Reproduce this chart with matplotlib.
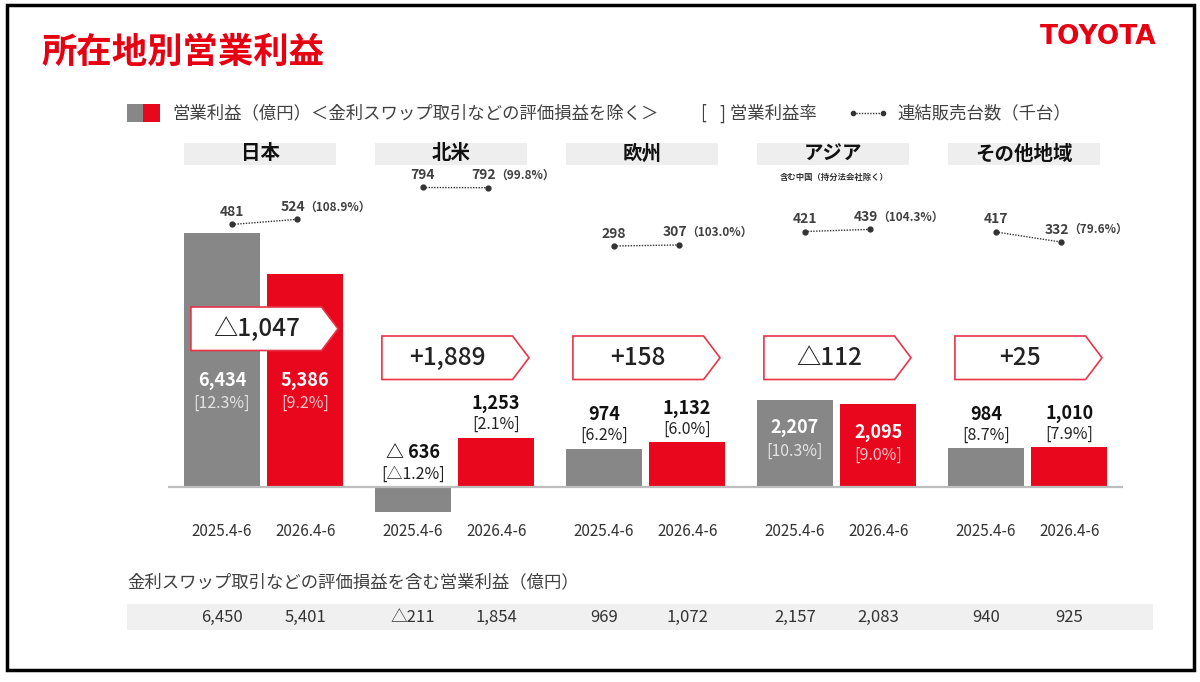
import matplotlib.pyplot as plt
from matplotlib.patches import Polygon, Rectangle
from matplotlib.lines import Line2D

plt.rcParams['font.family'] = ['Noto Sans CJK JP', 'DejaVu Sans']

regions = ["日本", "北米", "欧州", "アジア", "その他地域"]
periods = ["2025.4-6", "2026.4-6"]
profit_prev = [6434, -636, 974, 2207, 984]
profit_cur = [5386, 1253, 1132, 2095, 1010]
margin_prev = [12.3, -1.2, 6.2, 10.3, 8.7]
margin_cur = [9.2, 2.1, 6.0, 9.0, 7.9]
profit_change = [-1047, 1889, 158, -112, 25]
units_prev = [481, 794, 298, 421, 417]
units_cur = [524, 792, 307, 439, 332]
units_ratio = [108.9, 99.8, 103.0, 104.3, 79.6]
incl_prev = [6450, -211, 969, 2157, 940]
incl_cur = [5401, 1854, 1072, 2083, 925]

GRAY = '#878787'
RED = '#e8071c'
DARK = '#222222'
TXT = '#404040'

W, H = 1200, 682
X0, DX = 263.5, 191.0          # pixel of first group, pixels per group
Y0, S = 487.0, 254.0 / 6434    # baseline pixel, pixels per 億円
U0, UY, US = 794, 187.5, 0.118  # units axis: value, pixel, pixels per unit


def fmt(v, sep=""):
    return f"{v:,}" if v >= 0 else f"△{sep}{-v:,}"


def fmt_pct(v):
    return f"[{v:.1f}%]" if v >= 0 else f"[△{-v:.1f}%]"


def ypx(py):
    return (Y0 - py) / S


def vpx(v):
    return Y0 - v * S


def ftext(px, py, s, **kw):
    fig.text(px / W, 1 - py / H, s, **kw)


fig = plt.figure(figsize=(W / 100, H / 100), dpi=100)
ax = fig.add_axes([0, 0, 1, 1])
ax.set_xlim(-X0 / DX, (W - X0) / DX)
ax.set_ylim(-(H - Y0) / S, Y0 / S)
ax.axis('off')

ax2 = ax.twinx()
ax2.set_ylim(U0 - (H - UY) / US, U0 + UY / US)
ax2.axis('off')

n = len(regions)
xs = list(range(n))
off = 0.218
bw = 0.398

# header boxes
for i, r in enumerate(regions):
    ax.add_patch(Rectangle((i - 0.416, ypx(165)), 0.796, ypx(143) - ypx(165),
                           color='#eeeeee', lw=0, zorder=1))
    ax.text(i - 0.018, ypx(154), r, ha='center', va='center', fontsize=14,
            fontweight='bold', color='#111111')
ax.text(3 - 0.01, ypx(177), "含む中国（持分法会社除く）", ha='center', va='center',
        fontsize=6, fontweight='bold', color='#333333')

# bars
ax.bar([x - off for x in xs], profit_prev, width=bw, color=GRAY, zorder=2)
ax.bar([x + off for x in xs], profit_cur, width=bw, color=RED, zorder=2)
ax.hlines(0, -0.5, n - 0.5, color='#bdbdbd', lw=1.6, zorder=3)

# change callouts
callout_top = [307, 336, 336, 336, 336]
for i, ch in enumerate(profit_change):
    t, b = ypx(callout_top[i]), ypx(callout_top[i] + 43.5)
    pts = [(i - 0.38, t), (i + 0.304, t), (i + 0.39, (t + b) / 2),
           (i + 0.304, b), (i - 0.38, b)]
    ax.add_patch(Polygon(pts, closed=True, fc='white', ec='#e8344a', lw=1.2, zorder=5))
    s = fmt(ch) if ch < 0 else f"+{ch:,}"
    ax.text(i - 0.038, (t + b) / 2, s, ha='center', va='center', fontsize=17.5,
            fontweight='medium', color=DARK, zorder=6)

# bar labels
for vals, pcts, dx, inside_pct_col in [(profit_prev, margin_prev, -off, '#e4e4e4'),
                                       (profit_cur, margin_cur, off, '#f7c4c8')]:
    for i, (v, p) in enumerate(zip(vals, pcts)):
        x = i + dx
        top_px = vpx(max(v, 0))
        if v > 2000:
            vy = max(top_px + 28, callout_top[i] + 43.5 + 30)
            ax.text(x, ypx(vy), fmt(v, " "), ha='center', va='center', fontsize=13,
                    fontweight='bold', color='white', zorder=4)
            ax.text(x, ypx(vy + 23), fmt_pct(p), ha='center', va='center',
                    fontsize=11.5, color=inside_pct_col, zorder=4)
        else:
            ax.text(x, ypx(top_px - 34), fmt(v, " "), ha='center', va='center',
                    fontsize=13, fontweight='bold', color='#111111', zorder=4)
            ax.text(x, ypx(top_px - 13), fmt_pct(p), ha='center', va='center',
                    fontsize=11.5, color='#222222', zorder=4)

# period labels
for i in xs:
    for dx, lab in zip((-off, off), periods):
        ax.text(i + dx, ypx(531), lab, ha='center', va='center', fontsize=11,
                color='#333333')

# unit sales (thousand)
for i in xs:
    ax2.plot([i - 0.165, i + 0.175], [units_prev[i], units_cur[i]], ls=(0, (1, 1)),
             lw=1, color='#333333', marker='o', ms=3.5, zorder=4)
    ax2.annotate(f"{units_prev[i]}", (i - 0.165, units_prev[i]), xytext=(0, 9),
                 textcoords='offset points', ha='center', va='center', fontsize=10,
                 fontweight='bold', color=TXT)
    ax2.annotate(f"{units_cur[i]}", (i + 0.175, units_cur[i]), xytext=(-3, 9),
                 textcoords='offset points', ha='center', va='center', fontsize=10,
                 fontweight='bold', color=TXT)
    ax2.annotate(f"（{units_ratio[i]:.1f}%）", (i + 0.175, units_cur[i]), xytext=(5, 9),
                 textcoords='offset points', ha='left', va='center', fontsize=8.5,
                 fontweight='bold', color=TXT)

# bottom table incl. swap valuation
ax.add_patch(Rectangle((-0.715, ypx(630)), 5.372, ypx(604) - ypx(630),
                       color='#f0f0f0', lw=0, zorder=1))
for i in xs:
    ax.text(i - off, ypx(617), fmt(incl_prev[i]), ha='center', va='center',
            fontsize=12, color='#333333', zorder=2)
    ax.text(i + off, ypx(617), fmt(incl_cur[i]), ha='center', va='center',
            fontsize=12, color='#333333', zorder=2)

# title, logo, legend, notes
ftext(41, 52, "所在地別営業利益", ha='left', va='center', fontsize=25.5,
      fontweight='bold', color='#e60012')
ftext(1098, 37, "TOYOTA", ha='center', va='center', fontsize=19,
      fontweight='bold', color='#e60012', family='DejaVu Sans')

fig.add_artist(Rectangle((127 / W, 1 - 122 / H), 16 / W, 18 / H, color=GRAY,
                         transform=fig.transFigure, lw=0))
fig.add_artist(Rectangle((143 / W, 1 - 122 / H), 17 / W, 18 / H, color=RED,
                         transform=fig.transFigure, lw=0))
ftext(172, 113, "営業利益（億円）＜金利スワップ取引などの評価損益を除く＞", ha='left',
      va='center', fontsize=12.5, color=TXT)
ftext(700, 113, "[", ha='left', va='center', fontsize=12.5, color=TXT)
ftext(720, 113, "] 営業利益率", ha='left', va='center', fontsize=12.5, color=TXT)
fig.add_artist(Line2D([853 / W, 883 / W], [1 - 113 / H, 1 - 113 / H],
                      transform=fig.transFigure, ls=(0, (1, 1)), lw=1,
                      color='#333333', marker='o', ms=3))
ftext(897, 113, "連結販売台数（千台）", ha='left', va='center', fontsize=12.5, color=TXT)

ftext(127, 582, "金利スワップ取引などの評価損益を含む営業利益（億円）", ha='left',
      va='center', fontsize=12.5, color=TXT)

fig.add_artist(Rectangle((7 / W, 1 - 670 / H), 1187 / W, 665 / H, fill=False,
                         ec='black', lw=2.5, transform=fig.transFigure))

plt.savefig("out.png", dpi=100)
